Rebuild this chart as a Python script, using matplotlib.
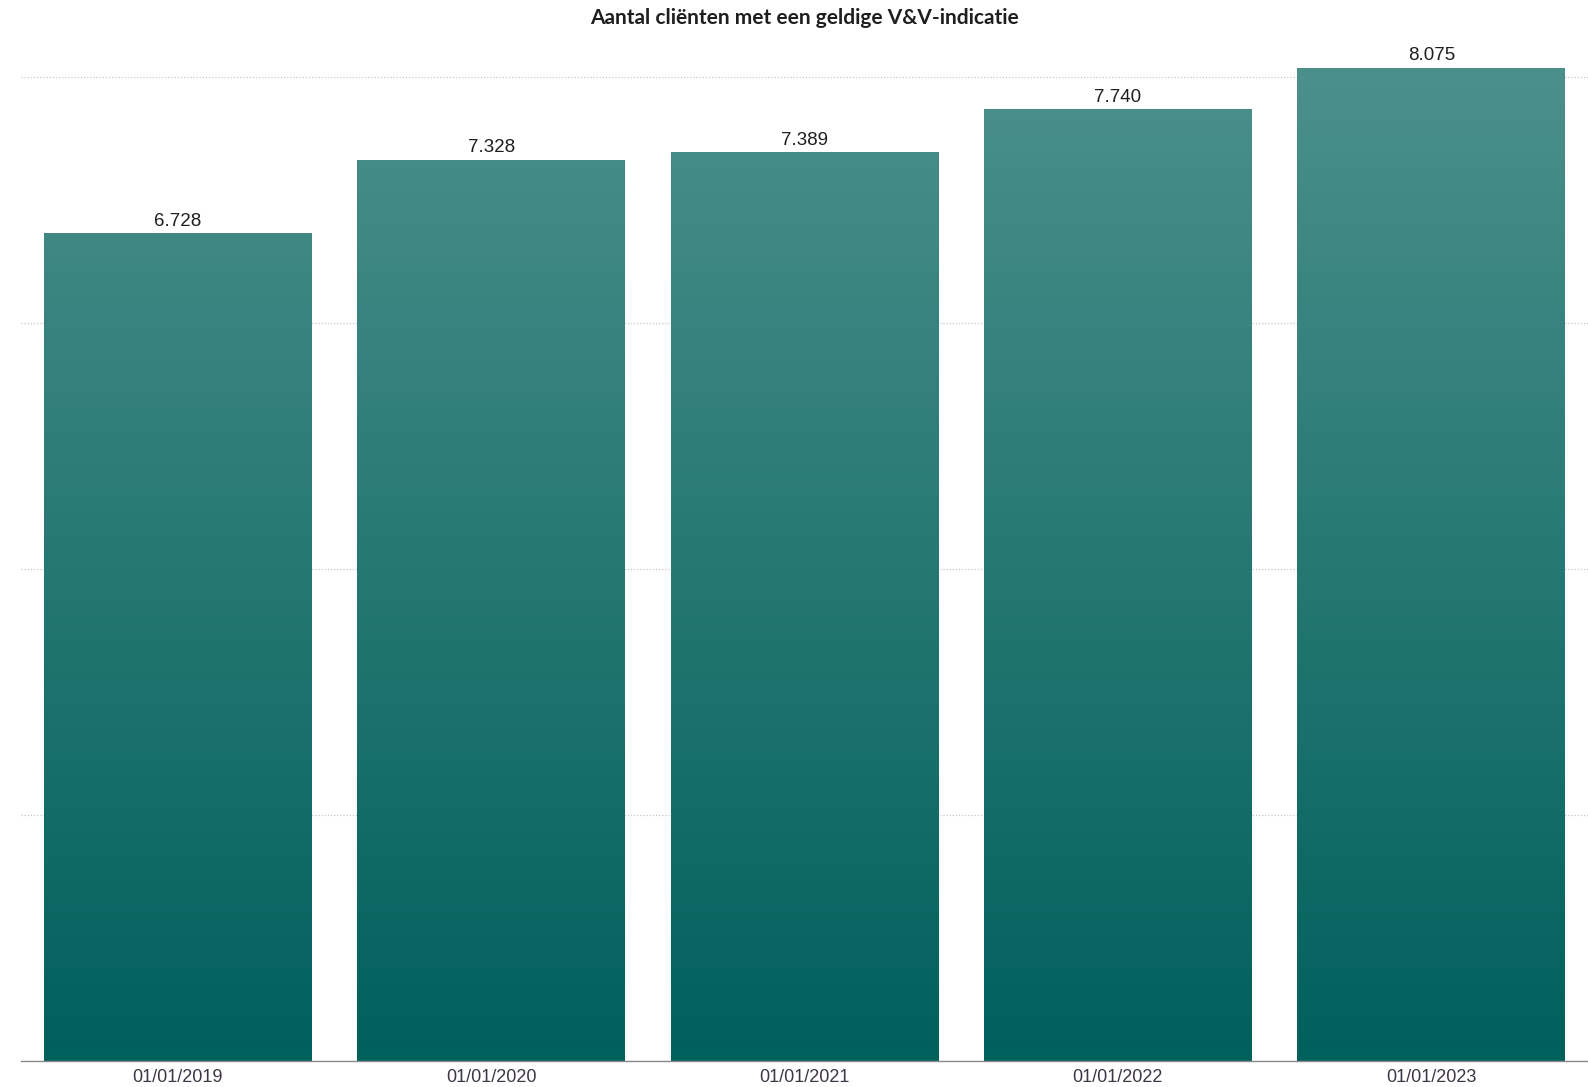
import matplotlib
matplotlib.use("Agg")
import matplotlib.pyplot as plt
import numpy as np
from matplotlib.colors import LinearSegmentedColormap

dates = ["01/01/2019", "01/01/2020", "01/01/2021", "01/01/2022", "01/01/2023"]
clients = [6728, 7328, 7389, 7740, 8075]
labels = ["6.728", "7.328", "7.389", "7.740", "8.075"]

W, H = 1588, 1087
fig = plt.figure(figsize=(W / 100, H / 100), dpi=100)
# axes box in pixels: left 21, right 1588, bottom 1061 (from top), top 40
ax = fig.add_axes([21 / W, (H - 1061) / H, (1588 - 21) / W, (1061 - 40) / H])

ymax = (1061 - 40) / (984 / 8000)
ax.set_xlim(-0.5, 4.5)
ax.set_ylim(0, ymax)

grad = LinearSegmentedColormap.from_list("teal", ["#00605c", "#4e918d"])
x = np.arange(len(dates))
bars = ax.bar(x, clients, width=0.855, color="none", edgecolor="none", zorder=2)
for bar in bars:
    x0 = bar.get_x()
    img = ax.imshow(np.linspace(0, 1, 256).reshape(-1, 1), cmap=grad, origin="lower",
                    extent=[x0, x0 + bar.get_width(), 0, ymax], aspect="auto", zorder=2)
    img.set_clip_path(bar)
ax.set_xlim(-0.5, 4.5)
ax.set_ylim(0, ymax)

for xi, v, lab in zip(x, clients, labels):
    ax.annotate(lab, (xi, v), xytext=(0, 2.5), textcoords="offset points", ha="center", va="bottom",
                fontsize=13.5, color="#1e1e1e", family="Liberation Sans", zorder=3)

ax.set_yticks([0, 2000, 4000, 6000, 8000])
ax.yaxis.grid(True, linestyle=(0, (1, 1.5)), color="#c8c8c8", linewidth=0.9, zorder=0)
ax.set_axisbelow(True)
ax.tick_params(axis="y", left=False, labelleft=False)
ax.tick_params(axis="x", length=0, pad=6)
ax.set_xticks(x)
ax.set_xticklabels(dates, fontsize=13, color="#3f3645", family="Liberation Sans")
for s in ["top", "right", "left"]:
    ax.spines[s].set_visible(False)
ax.spines["bottom"].set_color("#8a8a8a")
ax.spines["bottom"].set_linewidth(1.0)

fig.text((21 + 1588) / 2 / W, 1 - 18 / H, "Aantal cliënten met een geldige V&V-indicatie",
         ha="center", va="center", fontsize=15, color="#1e1e1e", family="Lato", fontweight="bold")

fig.savefig("out.png", dpi=100, facecolor="white")
